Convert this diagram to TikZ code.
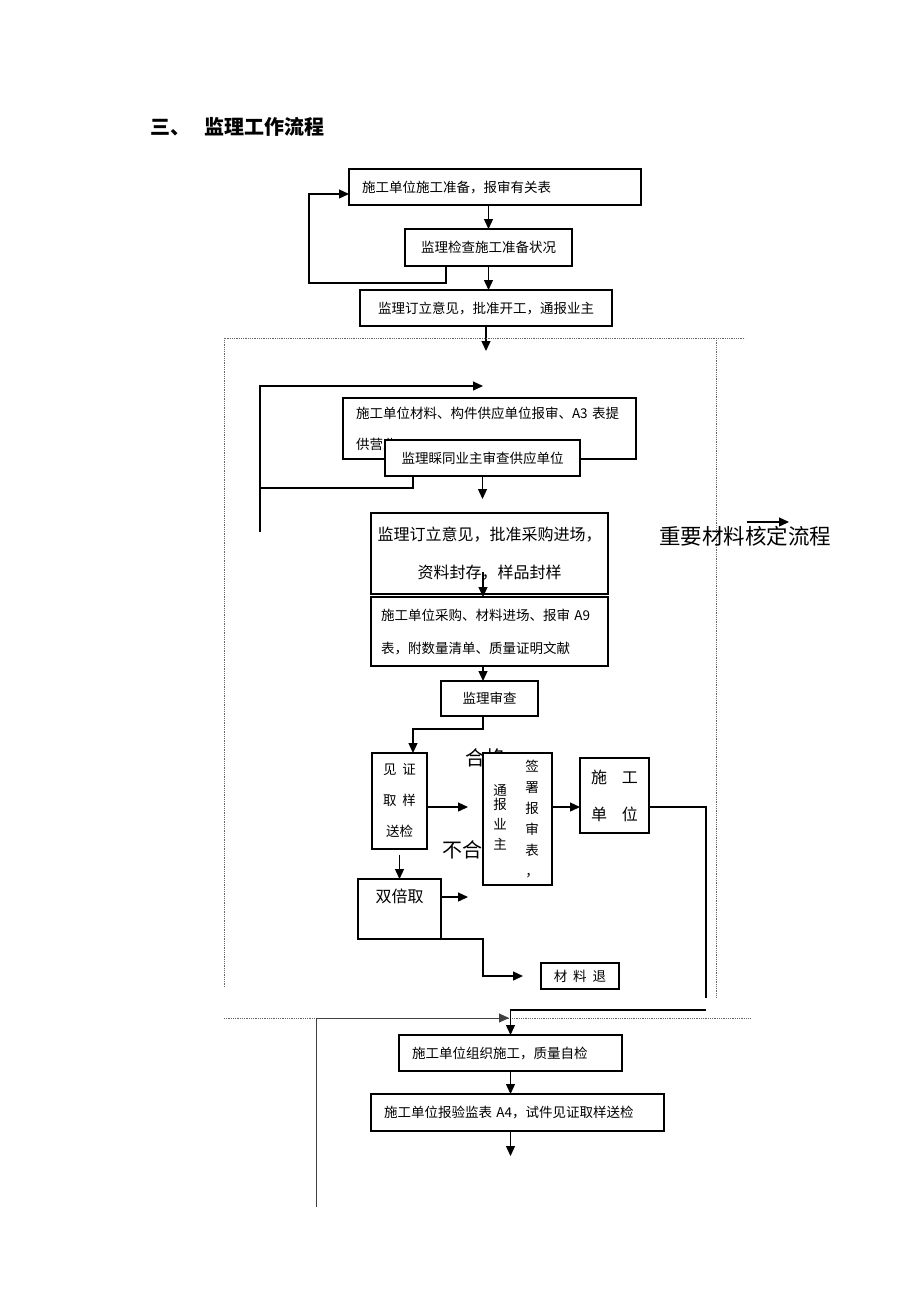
\documentclass[tikz,border=0pt]{standalone}
\usepackage{fontspec}
\setmainfont{Noto Sans CJK SC}
\usepackage{tikz}
\usetikzlibrary{positioning,arrows.meta}
\tikzstyle{proc}=[rectangle,fill=white,draw=black,line width=1.3pt,outer sep=0pt,inner ysep=0pt,font=\bodyfont]
\tikzstyle{note}=[inner sep=0pt,outer sep=0pt]
\tikzstyle{conn}=[line width=1.3pt]
\tikzstyle{mypath}=[conn,-{Triangle[length=10pt,width=9pt]}]
\tikzstyle{sepline}=[densely dotted,line width=0.8pt,draw=black!60]
\def\bodyfont{\fontsize{13.5pt}{31pt}\selectfont}
\def\bigfont{\fontsize{16pt}{38pt}\selectfont}
\def\hugefont{\fontsize{20pt}{24pt}\selectfont}
\def\padx{13pt}

\begin{document}
\begin{tikzpicture}[x=1pt,y=-1pt]
	\useasboundingbox (0,0) rectangle (920,1302);

	% title
	\node[note,anchor=west,font=\hugefont\bfseries] (title) at (150,127) {三、\hspace{14pt}监理工作流程};

	% start-up
	\node[proc,anchor=north west,minimum height=36pt,text width=266pt,inner xsep=\padx,align=left] (prep) at (349,169) {施工单位施工准备，报审有关表};
	\node[proc,anchor=north west,minimum width=167pt,minimum height=37pt] (check) at (405,229) {监理检查施工准备状况};
	\node[proc,anchor=north west,minimum width=252pt,minimum height=36pt] (start) at (360,290) {监理订立意见，批准开工，通报业主};
	\coordinate (loopA) at (309,283);

	\draw[mypath] (check.north |- prep.south) -- (check.north);
	\draw[mypath] (check.south) -- (check.south |- start.north);
	\draw[mypath] ([xshift=-42.5pt]check.south) |- (loopA) |- ([yshift=-7pt]prep.west);
	\draw[mypath] (start.south) -- ++(0,25);

	% material frame
	\draw[sepline] (224,987) -- (224,338) -- (745,338);
	\draw[sepline] (716,338) -- (716,998);
	\draw[sepline] (224,1018) -- (750,1018);

	%% supplier check
	\node[proc,anchor=north west,minimum height=61pt,text width=267pt,inner xsep=\padx,align=left] (supply) at (343,398) {施工单位材料、构件供应单位报审、A3 表提\\供营业};
	\node[proc,anchor=north west,minimum width=195pt,minimum height=36pt] (vet) at (385,440) {监理睬同业主审查供应单位};
	\coordinate (loopB) at (260,488);
	\coordinate (loopE) at (260,532);
	\coordinate (loopT) at (483,386);
	\draw[conn] ([xshift=-69.5pt]vet.south) |- (loopB);
	\draw[mypath] (loopE) |- (loopT);
	\draw[mypath] (vet.south) -- ++(0,23);

	%% purchase
	\node[proc,anchor=north west,minimum width=237pt,minimum height=81pt,font=\bigfont,align=center] (appr) at (371,513) {监理订立意见，批准采购进场，\\资料封存，样品封样};
	\node[proc,anchor=north west,minimum height=69pt,text width=217pt,inner xsep=10pt,align=left,font=\fontsize{13.5pt}{33pt}\selectfont] (buy) at (371,597) {施工单位采购、材料进场、报审 A9\\表，附数量清单、质量证明文献};
	\node[proc,anchor=north west,minimum width=97pt,minimum height=35pt] (insp) at (441,681) {监理审查};
	\coordinate (apprin) at (483,572);
	\coordinate (bendW) at (413,729);
	\draw[mypath] (apprin) -- (apprin |- buy.north);
	\draw[mypath] (apprin |- buy.south) -- (apprin |- insp.north);
	\draw[mypath] (apprin |- insp.south) -- (apprin |- bendW) -- (bendW) -- (bendW |- 0,753);

	%% sampling
	\node[proc,anchor=north west,minimum width=55pt,minimum height=96pt,align=center] (wit) at (372,753) {见\hspace{6pt}证\\取\hspace{6pt}样\\送检};
	\node[note,anchor=west,font=\hugefont] (pass) at (465,758) {合格};
	\node[note,anchor=west,font=\hugefont] (fail) at (442,850) {不合格};
	\node[proc,anchor=north west,minimum width=69pt,minimum height=132pt] (notify) at (483,753) {};
	\node[note,anchor=north,align=center,font=\fontsize{13.5pt}{20pt}\selectfont] (tellcol) at (500,785) {通\\[-6pt]报\\业\\主};
	\node[note,anchor=north,align=center,font=\fontsize{13.5pt}{21pt}\selectfont] (signcol) at (532,760) {签\\署\\报\\审\\表\\，};
	\node[proc,anchor=north west,minimum width=69pt,minimum height=75pt,font=\fontsize{16pt}{37pt}\selectfont,align=center] (unit) at (580,758) {施\hspace{15pt}工\\单\hspace{15pt}位};
	\coordinate (passE) at (468,807);
	\coordinate (unitR) at (706,998);
	\draw[mypath] (wit.east |- passE) -- (passE);
	\draw[mypath] (notify.east |- passE) -- (unit.west |- passE);
	\draw[conn] (unit.east |- passE) -| (unitR);

	%% double sampling
	\node[proc,anchor=north west,minimum width=83pt,minimum height=60pt,font=\fontsize{16pt}{26pt}\selectfont,align=center] (dbl) at (358,879) {双倍取\\\mbox{}};
	\node[proc,anchor=north west,minimum width=78pt,minimum height=26pt] (ret) at (541,963) {材\hspace{6pt}料\hspace{6pt}退};
	\coordinate (againE) at (468,897);
	\coordinate (retBend) at (483,939);
	\draw[mypath] ([yshift=-6pt]wit.south) -- (dbl.north);
	\draw[mypath] (dbl.east |- againE) -- (againE);
	\draw[mypath] (dbl.south east) -- (retBend) |- (ret.west -| 523,0);

	%% caption
	\node[note,anchor=west,font=\fontsize{21.5pt}{24pt}\selectfont] (flowname) at (659,536) {重要材料核定流程};
	\coordinate (tagS) at (747,522);
	\coordinate (tagE) at (789,522);
	\draw[mypath] (tagS) -- (tagE);

	% construction
	\node[proc,anchor=north west,minimum height=36pt,text width=197pt,inner xsep=\padx,align=left] (self) at (399,1035) {施工单位组织施工，质量自检};
	\node[proc,anchor=north west,minimum height=37pt,text width=267pt,inner xsep=\padx,align=left] (rep) at (371,1094) {施工单位报验监表 A4，试件见证取样送检};
	\coordinate (joinR) at (706,1010);
	\coordinate (backB) at (316,1207);
	\coordinate (backE) at (509,1018);
	\draw[mypath,line width=1pt,black!75] (backB) |- (backE);
	\draw[mypath] (joinR) -| (self.north);
	\draw[mypath] (self.south) -- (self.south |- rep.north);
	\draw[mypath] (self.south |- rep.south) -- ++(0,25);
\end{tikzpicture}
\end{document}
